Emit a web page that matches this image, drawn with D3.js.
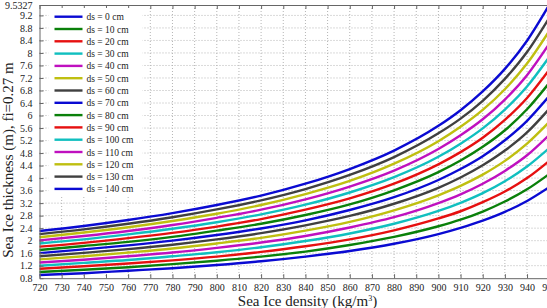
<!DOCTYPE html>
<meta charset="utf-8">
<script src="https://d3js.org/d3.v7.min.js"></script>
<style>
  body { margin: 0; background: #fff; }
  text { font-family: "Liberation Serif", "DejaVu Serif", serif; fill: #222; }
</style>
<body>
<div id="my_dataviz"></div>
<script>
// sea ice densities (x) read at these points
var density = [720, 740, 760, 780, 800, 820, 840, 860, 880, 900, 910, 920, 930, 940, 950];
// snow depth of each curve, cm
var snowDepth = [0, 10, 20, 30, 40, 50, 60, 70, 80, 90, 100, 110, 120, 130, 140];
// thickness (m) for each snow depth, one row per curve
var thickness = [
  [0.90, 0.96, 1.04, 1.12, 1.22, 1.34, 1.49, 1.67, 1.90, 2.21, 2.41, 2.64, 2.92, 3.27, 3.71],
  [1.00, 1.07, 1.15, 1.25, 1.36, 1.49, 1.65, 1.86, 2.12, 2.46, 2.67, 2.93, 3.25, 3.64, 4.13],
  [1.10, 1.18, 1.27, 1.37, 1.49, 1.64, 1.82, 2.04, 2.33, 2.71, 2.94, 3.23, 3.57, 4.00, 4.55],
  [1.20, 1.29, 1.38, 1.50, 1.63, 1.79, 1.99, 2.23, 2.54, 2.95, 3.21, 3.52, 3.90, 4.37, 4.96],
  [1.30, 1.39, 1.50, 1.62, 1.77, 1.94, 2.15, 2.42, 2.75, 3.20, 3.48, 3.82, 4.23, 4.73, 5.38],
  [1.40, 1.50, 1.62, 1.75, 1.91, 2.09, 2.32, 2.60, 2.97, 3.45, 3.75, 4.11, 4.55, 5.10, 5.79],
  [1.50, 1.61, 1.73, 1.87, 2.04, 2.24, 2.49, 2.79, 3.18, 3.69, 4.02, 4.41, 4.88, 5.46, 6.21],
  [1.60, 1.72, 1.85, 2.00, 2.18, 2.39, 2.65, 2.98, 3.39, 3.94, 4.29, 4.70, 5.21, 5.83, 6.62],
  [1.70, 1.83, 1.96, 2.12, 2.32, 2.54, 2.82, 3.16, 3.61, 4.19, 4.56, 5.00, 5.53, 6.20, 7.04],
  [1.81, 1.93, 2.08, 2.25, 2.45, 2.69, 2.99, 3.35, 3.82, 4.44, 4.83, 5.29, 5.86, 6.56, 7.46],
  [1.91, 2.04, 2.20, 2.38, 2.59, 2.84, 3.15, 3.54, 4.03, 4.68, 5.10, 5.59, 6.19, 6.93, 7.87],
  [2.01, 2.15, 2.31, 2.50, 2.73, 2.99, 3.32, 3.73, 4.24, 4.93, 5.37, 5.88, 6.51, 7.29, 8.29],
  [2.11, 2.26, 2.43, 2.63, 2.86, 3.14, 3.49, 3.91, 4.46, 5.18, 5.64, 6.18, 6.84, 7.66, 8.70],
  [2.21, 2.36, 2.54, 2.75, 3.00, 3.29, 3.65, 4.10, 4.67, 5.43, 5.90, 6.47, 7.17, 8.03, 9.12],
  [2.31, 2.47, 2.66, 2.88, 3.14, 3.44, 3.82, 4.29, 4.88, 5.67, 6.17, 6.77, 7.49, 8.39, 9.5327]
];
// old matlab line colour cycle
var lineColors = ["#0a0ad2", "#0a800a", "#e61010", "#10bfbf", "#bf10bf", "#bfbf10", "#404040"];
var xTicks = d3.range(720, 951, 10);
var yTicks = [0.8, 1.2, 1.6, 2, 2.4, 2.8, 3.2, 3.6, 4, 4.4, 4.8, 5.2, 5.6, 6, 6.4, 6.8, 7.2, 7.6, 8, 8.4, 8.8, 9.2, 9.5327];

var margin = {top: 5, left: 39.5},
    width = 509.7,
    height = 273.2;

var svg = d3.select("#my_dataviz")
  .append("svg")
    .attr("width", 547)
    .attr("height", 308)
  .append("g")
    .attr("transform", "translate(" + margin.left + "," + margin.top + ")");

var x = d3.scaleLinear().domain([720, 950]).range([0, width]);
var y = d3.scaleLinear().domain([0.8, 9.5327]).range([height, 0]);

// grid
svg.append("g").selectAll("line")
  .data(xTicks.slice(1, -1))
  .enter().append("line")
    .attr("x1", function(d) { return x(d) }).attr("x2", function(d) { return x(d) })
    .attr("y1", 0).attr("y2", height)
    .style("stroke", "#b5b5b5").style("stroke-dasharray", "1,2");
svg.append("g").selectAll("line")
  .data(yTicks.slice(1, -1))
  .enter().append("line")
    .attr("x1", 0).attr("x2", width)
    .attr("y1", function(d) { return y(d) }).attr("y2", function(d) { return y(d) })
    .style("stroke", "#b5b5b5").style("stroke-dasharray", "1,2");

// curves
var line = d3.line()
  .x(function(d, i) { return x(density[i]) })
  .y(function(d) { return y(d) })
  .curve(d3.curveMonotoneX);

svg.append("g").selectAll("path")
  .data(thickness)
  .enter().append("path")
    .attr("d", line)
    .attr("fill", "none")
    .attr("stroke", function(d, i) { return lineColors[i % lineColors.length] })
    .attr("stroke-width", 2.4);

// axes with inward ticks
var fmt = function(d) { return d === 9.5327 ? "9.5327" : d3.format("")(d) };
var xb = svg.append("g")
  .attr("transform", "translate(0," + height + ")")
  .call(d3.axisBottom(x).tickValues(xTicks).tickSizeInner(-4).tickSizeOuter(0).tickPadding(6).tickFormat(d3.format("d")));
var xt = svg.append("g")
  .call(d3.axisTop(x).tickValues(xTicks).tickSizeInner(-4).tickSizeOuter(0).tickFormat(""));
var yl = svg.append("g")
  .call(d3.axisLeft(y).tickValues(yTicks).tickSizeInner(-4).tickSizeOuter(0).tickPadding(7).tickFormat(fmt));

[xb, xt, yl].forEach(function(a) {
  a.selectAll("path, line").style("stroke", "#666");
  a.selectAll("text").style("font-size", "10px").style("font-family", "Liberation Serif").style("fill", "#222");
});

// legend
var legend = svg.append("g").attr("transform", "translate(9,3)");
legend.append("rect")
  .attr("width", 94).attr("height", 188)
  .attr("fill", "#fff");
snowDepth.forEach(function(d, i) {
  var yy = 8.7 + i * 12.3;
  legend.append("line")
    .attr("x1", 6).attr("x2", 34).attr("y1", yy).attr("y2", yy)
    .attr("stroke", lineColors[i % lineColors.length]).attr("stroke-width", 2.4);
  legend.append("text")
    .attr("x", 38).attr("y", yy + 3.5)
    .style("font-size", "9.5px")
    .text("ds = " + d + " cm");
});

// axis titles
var xl = svg.append("text")
  .attr("x", 268).attr("y", 300.5)
  .attr("text-anchor", "middle")
  .style("font-size", "15px")
  .text("Sea Ice density (kg/m");
xl.append("tspan").attr("dy", -5).style("font-size", "8px").text("3");
xl.append("tspan").attr("dy", 5).text(")");

svg.append("text")
  .attr("transform", "translate(-26.5,155)rotate(-90)")
  .attr("text-anchor", "middle")
  .style("font-size", "15px")
  .text("Sea Ice thickness (m), fi=0.27 m");
</script>
</body>
